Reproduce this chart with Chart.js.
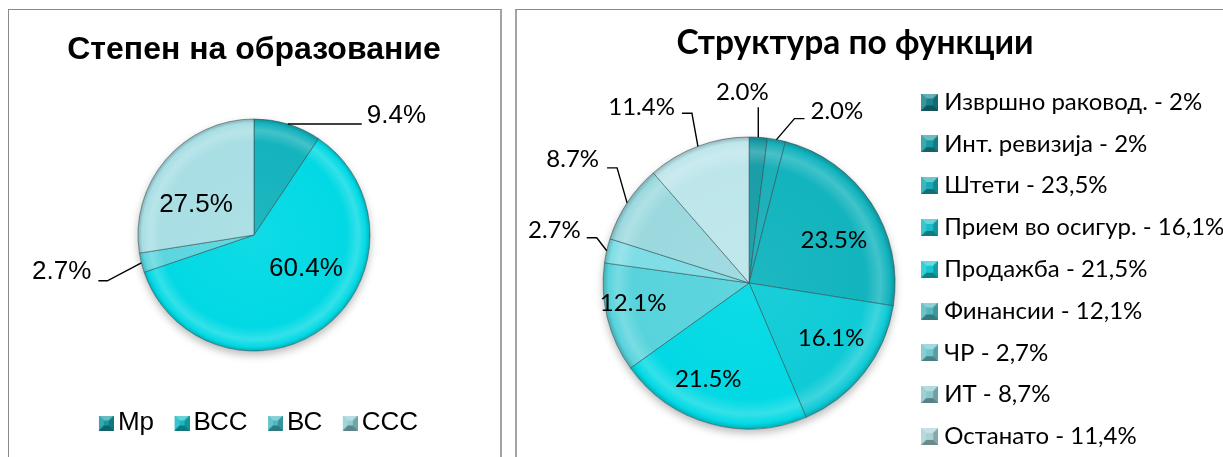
<!DOCTYPE html>
<html>
<head>
<meta charset="utf-8">
<script src="https://cdn.jsdelivr.net/npm/chart.js@4.4.1/dist/chart.umd.min.js"></script>
<style>
  html, body { margin: 0; padding: 0; background: #fff; overflow: hidden; width: 1223px; height: 457px; }
  .panel { position: absolute; box-sizing: border-box; }
  #p1 { left: 8px; top: 9px; width: 494px; height: 470px; border-top: 1px solid #8a8a8a; border-left: 1px solid #8a8a8a; border-right: 2px solid #a3a3a3; }
  #p2 { left: 515px; top: 9px; width: 720px; height: 470px; border-top: 1px solid #8a8a8a; border-left: 2px solid #a3a3a3; }
  canvas { position: absolute; }
  #c1 { left: 9px; top: 10px; }
  #c2 { left: 517px; top: 10px; }
</style>
</head>
<body>
<div class="panel" id="p1"></div>
<div class="panel" id="p2"></div>
<canvas id="c1" width="490" height="447"></canvas>
<canvas id="c2" width="720" height="490"></canvas>
<script>
// --- data ---
const eduLabels = ['Мр', 'ВСС', 'ВС', 'ССС'];
const eduValues = [9.4, 60.4, 2.7, 27.5];

const funcLabels = [
  'Извршно раковод. - 2%', 'Инт. ревизија - 2%', 'Штети - 23,5%',
  'Прием во осигур. - 16,1%', 'Продажба - 21,5%', 'Финансии - 12,1%',
  'ЧР - 2,7%', 'ИТ - 8,7%', 'Останато - 11,4%'
];
const funcValues = [2.0, 2.0, 23.5, 16.1, 21.5, 12.1, 2.7, 8.7, 11.4];

// --- colours ---
const eduColors = ['#14b3bd', '#02d9e4', '#5cd6df', '#a8dee4'];
const eduMarkers = ['#1596a0', '#17b9c3', '#48b9c2', '#8fcdd3'];
const funcColors = ['#1a9ea7', '#1cb0b9', '#12b4be', '#0fcbd6', '#02d9e4', '#58d3dc', '#7edde5', '#9bd9df', '#bde6eb'];
const funcMarkers = ['#17838b', '#1898a1', '#18a9b3', '#17bcc6', '#15c6d0', '#52b8c0', '#6fc5cc', '#8cc7cc', '#a9d2d6'];

const ARIAL = '"Liberation Sans", Arial, sans-serif';
const CALI = 'Lato, "Noto Sans", sans-serif';
const LEGEND_SIZE = 24;

function shade(hex, t) {
  const n = parseInt(hex.slice(1), 16);
  let r = n >> 16, g = (n >> 8) & 255, b = n & 255;
  const m = t < 0 ? 0 : 255, k = Math.abs(t);
  r = Math.round(r + (m - r) * k);
  g = Math.round(g + (m - g) * k);
  b = Math.round(b + (m - b) * k);
  return `rgb(${r},${g},${b})`;
}

// radial "bevel" fill for the slices
function bevelFill(colors) {
  return (c) => {
    const base = colors[c.dataIndex];
    const a = c.chart.chartArea;
    if (!a) return base;
    const r = c.dataset.radius;
    const cx = (a.left + a.right) / 2, cy = (a.top + a.bottom) / 2;
    const g = c.chart.ctx.createRadialGradient(cx, cy, 0, cx, cy, r);
    g.addColorStop(0, shade(base, 0.05));
    g.addColorStop(0.8, base);
    g.addColorStop(0.9, shade(base, 0.2));
    g.addColorStop(0.965, base);
    g.addColorStop(1, shade(base, -0.2));
    return g;
  };
}

// pyramid-like legend marker; `lead` leaves a transparent strip on its left
function bevelBox(color, s, lead = 0) {
  const cv = document.createElement('canvas');
  cv.width = s + 2 * lead;
  cv.height = s;
  const g = cv.getContext('2d');
  g.translate(2 * lead, 0);
  const b = Math.round(s * 0.3);
  const poly = (pts, fill) => {
    g.beginPath();
    pts.forEach(([x, y], k) => k ? g.lineTo(x, y) : g.moveTo(x, y));
    g.closePath();
    g.fillStyle = fill;
    g.fill();
  };
  g.fillStyle = color;
  g.fillRect(0, 0, s, s);
  poly([[0, 0], [s, 0], [s - b, b], [b, b]], shade(color, 0.35));
  poly([[0, 0], [b, b], [b, s - b], [0, s]], shade(color, 0.15));
  poly([[s, 0], [s, s], [s - b, s - b], [s - b, b]], shade(color, -0.2));
  poly([[0, s], [b, s - b], [s - b, s - b], [s, s]], shade(color, -0.35));
  return cv;
}

const pieShadow = {
  id: 'pieShadow',
  beforeDatasetsDraw(chart) {
    const arc = chart.getDatasetMeta(0).data[0];
    if (!arc) return;
    const ctx = chart.ctx;
    ctx.save();
    ctx.shadowColor = 'rgba(0,0,0,0.28)';
    ctx.shadowBlur = 9;
    ctx.shadowOffsetY = 4;
    ctx.fillStyle = '#fff';
    ctx.beginPath();
    ctx.arc(arc.x, arc.y, arc.outerRadius, 0, Math.PI * 2);
    ctx.fill();
    ctx.restore();
  }
};

// percentage labels, inside or with leader lines
const sliceLabels = {
  id: 'sliceLabels',
  afterDatasetsDraw(chart, args, opts) {
    const ctx = chart.ctx;
    const meta = chart.getDatasetMeta(0);
    const vals = chart.data.datasets[0].data;
    ctx.save();
    ctx.font = opts.font;
    ctx.fillStyle = '#000';
    ctx.strokeStyle = '#000';
    ctx.lineWidth = 1.4;
    ctx.textBaseline = 'middle';
    meta.data.forEach((arc, i) => {
      const p = opts.place[i];
      if (!p) return;
      const mid = (arc.startAngle + arc.endAngle) / 2;
      const txt = vals[i].toFixed(1) + '%';
      if (p.leader) {
        const rx = arc.x + arc.outerRadius * Math.cos(mid);
        const ry = arc.y + arc.outerRadius * Math.sin(mid);
        ctx.beginPath();
        p.leader.forEach(([dx, dy], k) => k ? ctx.lineTo(rx + dx, ry + dy) : ctx.moveTo(rx + dx, ry + dy));
        ctx.stroke();
        const [ex, ey] = p.leader[p.leader.length - 1];
        ctx.textAlign = p.align;
        ctx.fillText(txt, rx + ex + p.dx, ry + ey + p.dy);
      } else {
        const a = mid + p.da * Math.PI / 180;
        const r = arc.outerRadius * p.rf;
        ctx.textAlign = 'center';
        ctx.fillText(txt, arc.x + r * Math.cos(a), arc.y + r * Math.sin(a));
      }
    });
    ctx.restore();
  }
};

// heading placed over the whole panel rather than the plot area
const panelTitle = {
  id: 'panelTitle',
  afterDraw(chart, args, opts) {
    const ctx = chart.ctx;
    ctx.save();
    ctx.font = opts.font;
    ctx.fillStyle = '#000';
    ctx.textAlign = 'center';
    ctx.textBaseline = 'middle';
    ctx.fillText(opts.text, opts.x, opts.y);
    ctx.restore();
  }
};

function legendItems(markers, size, lead) {
  return (chart) => chart.data.labels.map((t, i) => ({
    text: t, index: i, hidden: false, lineWidth: 0,
    fillStyle: markers[i], strokeStyle: 'transparent', fontColor: '#000',
    pointStyle: bevelBox(markers[i], size, lead)
  }));
}

Chart.defaults.color = '#000';

new Chart(document.getElementById('c1'), {
  type: 'pie',
  data: {
    labels: eduLabels,
    datasets: [{
      data: eduValues,
      radius: 116,
      backgroundColor: bevelFill(eduColors),
      borderColor: 'rgba(45,75,80,0.55)',
      borderWidth: 1
    }]
  },
  options: {
    responsive: false,
    animation: false,
    events: [],
    layout: { padding: { top: 0, left: 0, right: 0, bottom: 11 } },
    plugins: {
      tooltip: { enabled: false },
      title: {
        display: true,
        text: 'Степен на образование',
        font: { family: ARIAL, size: 32, weight: 'bold' },
        padding: { top: 20.8, bottom: 2.3 }
      },
      legend: {
        position: 'bottom',
        labels: {
          font: { family: ARIAL, size: 26 },
          usePointStyle: true,
          pointStyleWidth: 15,
          padding: 11.5,
          generateLabels: legendItems(eduMarkers, 15, 9)
        }
      },
      sliceLabels: {
        font: '26px ' + ARIAL,
        place: [
          { leader: [[0, 0], [74, 0]], align: 'left', dx: 5, dy: -8 },
          { rf: 0.535, da: -19.4 },
          { leader: [[0, 0], [-34, 18], [-43, 18]], align: 'right', dx: -7, dy: -9 },
          { rf: 0.563, da: -13.1 }
        ]
      }
    }
  },
  plugins: [pieShadow, sliceLabels]
});

// right-hand legend: keep the text start fixed whatever the font measures
const measure = document.createElement('canvas').getContext('2d');
measure.font = `${LEGEND_SIZE}px ${CALI}`;
const longest = Math.max(...funcLabels.map(t => measure.measureText(t).width));
const legPad = 17.8, legMark = 5;
const legLeft = 423 - legPad - legMark - LEGEND_SIZE / 2;
const legWidth = legPad + legMark + LEGEND_SIZE / 2 + longest + 10;

new Chart(document.getElementById('c2'), {
  type: 'pie',
  data: {
    labels: funcLabels,
    datasets: [{
      data: funcValues,
      radius: 146,
      backgroundColor: bevelFill(funcColors),
      borderColor: 'rgba(45,75,80,0.55)',
      borderWidth: 1
    }]
  },
  options: {
    responsive: false,
    animation: false,
    events: [],
    layout: { padding: { top: 62.2, left: 2 * 230 - legLeft, right: 720 - legLeft - legWidth, bottom: 6.2 } },
    plugins: {
      tooltip: { enabled: false },
      title: { display: false },
      panelTitle: {
        text: 'Структура по функции',
        font: 'bold 33.5px ' + CALI,
        x: 338, y: 33.5
      },
      legend: {
        position: 'right',
        align: 'start',
        fullSize: false,
        labels: {
          font: { family: CALI, size: LEGEND_SIZE },
          usePointStyle: true,
          pointStyleWidth: legMark,
          padding: legPad,
          generateLabels: legendItems(funcMarkers, 17, 0)
        }
      },
      sliceLabels: {
        font: '24px ' + CALI,
        place: [
          { leader: [[0, 0], [0, -30]], align: 'center', dx: -16, dy: -15 },
          { leader: [[0, 0], [18, -21], [28, -21]], align: 'left', dx: 6, dy: -7 },
          { rf: 0.65, da: 6.5 },
          { rf: 0.676, da: -4.1 },
          { rf: 0.715, da: 7.4 },
          { rf: 0.806, da: 4.1 },
          { leader: [[0, 0], [-10, -13], [-20, -13]], align: 'right', dx: -6, dy: -7 },
          { leader: [[0, 0], [-10, -35], [-20, -35]], align: 'right', dx: -8, dy: -9 },
          { leader: [[0, 0], [-6, -33], [-16, -33]], align: 'right', dx: -7, dy: -6 }
        ]
      }
    }
  },
  plugins: [pieShadow, sliceLabels, panelTitle]
});
</script>
</body>
</html>
